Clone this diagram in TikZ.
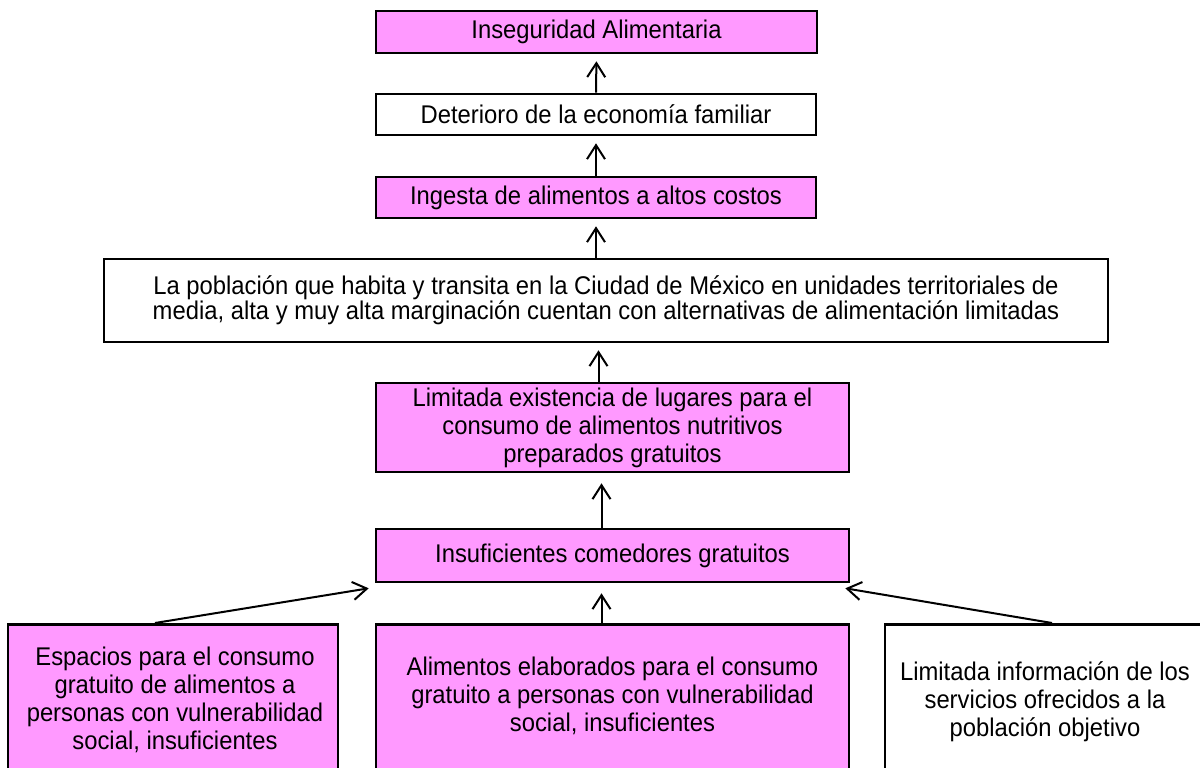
\documentclass[tikz,border=0pt]{standalone}
\usepackage{fontspec}
\setmainfont[FakeStretch=0.93]{Liberation Sans}
\usetikzlibrary{arrows.meta}
\definecolor{pinkbox}{HTML}{FF99FF}
\begin{document}
\begin{tikzpicture}[x=1pt,y=-1pt,
  box/.style={draw=black, line width=2.6pt, inner sep=0pt, align=center,
    font=\fontsize{25.6}{28}\selectfont},
  pinkb/.style={box, fill=pinkbox},
  whiteb/.style={box, fill=white},
  txt/.style={inner sep=0pt, align=center, font=\fontsize{25.6}{28}\selectfont},
  arr/.style={line width=2pt, -{Straight Barb[length=14pt,width=18pt,line width=2pt]}},
]
\useasboundingbox (0,0) rectangle (1200,768);
\clip (0,0) rectangle (1200,768);
\fill[white] (0,0) rectangle (1200,768);

\node[pinkb, minimum width=441pt, minimum height=42pt] (b1) at (596.5,32) {Inseguridad Alimentaria};
\node[whiteb, minimum width=440pt, minimum height=41pt] (b2) at (596,114.5) {Deterioro de la economía familiar};
\node[pinkb, minimum width=440pt, minimum height=41pt] (b3) at (596,197.5) {Ingesta de alimentos a altos costos};
\node[whiteb, minimum width=1004pt, minimum height=83pt, font=\fontsize{25.6}{25}\selectfont] (b4) at (606,300.5)
  {La población que habita y transita en la Ciudad de México en unidades territoriales de\\
   media, alta y muy alta marginación cuentan con alternativas de alimentación limitadas};
\node[pinkb, minimum width=473pt, minimum height=89pt] (b5) at (612.5,427.5)
  {Limitada existencia de lugares para el\\consumo de alimentos nutritivos\\preparados gratuitos};
\node[pinkb, minimum width=473pt, minimum height=53pt] (b6) at (612.5,555.5) {Insuficientes comedores gratuitos};

\node[pinkb, minimum width=330pt, minimum height=200pt, anchor=north] (lbox) at (173,623) {};
\node[txt] (ltxt) at (175,700) {Espacios para el consumo\\gratuito de alimentos a\\personas con vulnerabilidad\\social, insuficientes};
\node[pinkb, minimum width=473pt, minimum height=200pt, anchor=north] (mbox) at (612.5,623) {};
\node[txt] (mtxt) at (612.5,696) {Alimentos elaborados para el consumo\\gratuito a personas con vulnerabilidad\\social, insuficientes};
\node[whiteb, minimum width=320pt, minimum height=200pt, anchor=north] (rbox) at (1045,623) {};
\node[txt] (rtxt) at (1045,701.5) {Limitada información de los\\servicios ofrecidos a la\\población objetivo};

\draw[arr, shorten >=7pt] (b2.north) -- (b1.south);
\draw[arr, shorten >=7pt] (b3.north) -- (b2.south);
\draw[arr, shorten >=7pt] (b4.north -| b3.south) -- (b3.south);
\draw[arr, shorten >=7pt] ([xshift=-14pt]b5.north) -- ([xshift=-14pt]b5.north |- b4.south);
\draw[arr, shorten >=10pt] ([xshift=-11pt]b6.north) -- ([xshift=-11pt]b5.south);
\draw[arr, shorten >=10pt] ([xshift=-11pt]mbox.north) -- ([xshift=-11pt]b6.south);
\draw[arr] ([xshift=-18pt]lbox.north) -- ([xshift=-6pt,yshift=-5pt]b6.south west);
\draw[arr] ([xshift=7pt]rbox.north) -- ([xshift=-5pt,yshift=-5pt]b6.south east);
\end{tikzpicture}
\end{document}
